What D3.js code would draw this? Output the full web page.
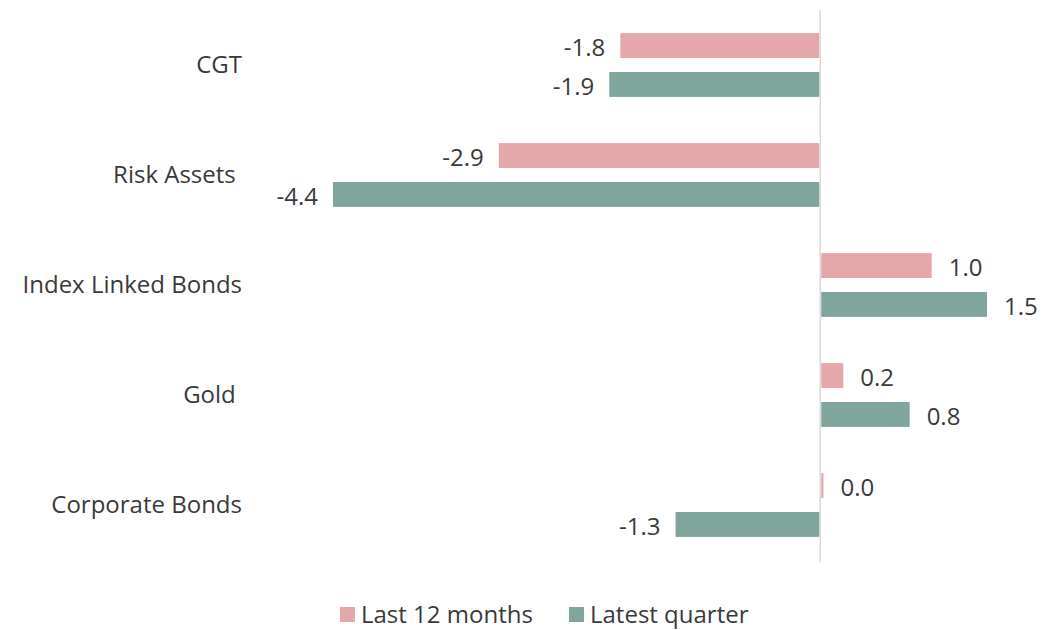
<!DOCTYPE html>
<html><head><meta charset="utf-8">
<script src="https://cdn.jsdelivr.net/npm/d3@7"></script>
<style>body{margin:0;background:#fff}svg text{font-family:"Open Sans",sans-serif;fill:#3a3a3a;white-space:pre}</style>
</head><body><svg id="c" width="1063" height="630"></svg>
<script>
const categories = ["CGT", "Risk Assets ", "Index Linked Bonds", "Gold ", "Corporate Bonds"];
const seriesNames = ["Last 12 months", "Latest quarter"];
const last12 = [-1.8, -2.9, 1.0, 0.2, 0.02];
const latestQ = [-1.9, -4.4, 1.5, 0.8, -1.3];
const colors = ["#e5a8aa", "#80a59c"];

const svg = d3.select("#c");
const x = d3.scaleLinear().domain([-4.4, 1.5]).range([334, 986]);
const y0 = d3.scaleBand().domain(categories).range([10, 560]).paddingInner(0.42).paddingOuter(0.21);
const y1 = d3.scaleBand().domain(seriesNames).range([0, y0.bandwidth()]).paddingInner(0.36);
const fs = 24;
const x0 = x(0);
const fmt = v => d3.format(".1f")(v).replace("\u2212", "-");

const data = [];
categories.forEach((c, i) => {
  data.push({c, s: seriesNames[0], v: last12[i], col: colors[0]});
  data.push({c, s: seriesNames[1], v: latestQ[i], col: colors[1]});
});

svg.append("line").attr("x1", x0).attr("x2", x0).attr("y1", 10).attr("y2", 562)
  .attr("stroke", "#d9d9d9").attr("stroke-width", 1.5);

svg.selectAll("rect.bar").data(data).enter().append("rect").attr("class", "bar")
  .attr("x", d => d.v >= 0 ? x0 + 1 : x(d.v) - 1)
  .attr("width", d => Math.abs(x(d.v) - x0))
  .attr("y", d => y0(d.c) + y1(d.s))
  .attr("height", y1.bandwidth())
  .attr("fill", d => d.col);

svg.selectAll("text.val").data(data).enter().append("text").attr("class", "val")
  .attr("x", d => d.v >= 0 ? x(d.v) + 18 : x(d.v) - 16)
  .attr("y", d => y0(d.c) + y1(d.s) + y1.bandwidth() / 2)
  .attr("dy", "0.45em")
  .attr("text-anchor", d => d.v >= 0 ? "start" : "end")
  .attr("font-size", fs)
  .text(d => fmt(d.v));

const yAxis = svg.append("g").attr("transform", "translate(242,0)")
  .call(d3.axisLeft(d3.scaleBand().domain(categories).range([10, 560])).tickSize(0).tickPadding(0));
yAxis.select(".domain").remove();
yAxis.selectAll("text").attr("font-size", fs).attr("fill", "#3a3a3a").attr("dy", "0.35em").style("font-family", '"Open Sans",sans-serif');

const leg = svg.append("g");
const legX = [340, 569];
seriesNames.forEach((s, i) => {
  leg.append("rect").attr("x", legX[i]).attr("y", 607).attr("width", 15).attr("height", 15).attr("fill", colors[i]);
  leg.append("text").attr("x", legX[i] + 21).attr("y", 614.5).attr("dy", "0.35em").attr("font-size", fs).text(s);
});
</script></body></html>
